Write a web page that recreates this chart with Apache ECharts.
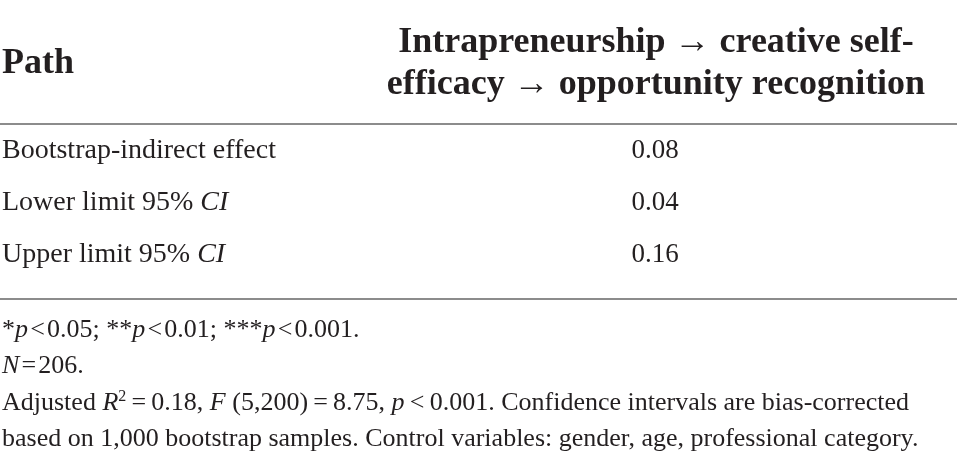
<!DOCTYPE html>
<html><head><meta charset="utf-8">
<script src="https://cdn.jsdelivr.net/npm/echarts@6/dist/echarts.min.js"></script>
<style>html,body{margin:0;padding:0;background:#fff}#c{width:957px;height:464px}</style>
</head><body><div id="c"></div>
<script>
const headerLeft = 'Path';
const headerRight = ['Intrapreneurship \u2192 creative self-', 'efficacy \u2192 opportunity recognition'];
const rowLabels = [
  [['n', 'Bootstrap-indirect effect']],
  [['n', 'Lower limit 95% '], ['i', 'CI']],
  [['n', 'Upper limit 95% '], ['i', 'CI']]
];
const indirectValues = ['0.08', '0.04', '0.16'];
const notes = [
  [['n', '*'], ['i', 'p'], ['n', '\u200a<\u200a0.05; **'], ['i', 'p'], ['n', '\u200a<\u200a0.01; ***'], ['i', 'p'], ['n', '\u200a<\u200a0.001.']],
  [['i', 'N'], ['n', '\u200a=\u200a206.']],
  [['n', 'Adjusted '], ['i', 'R'], ['s', '2'], ['n', '\u2009=\u20090.18, '], ['i', 'F'], ['n', ' (5,200)\u2009=\u20098.75, '], ['i', 'p'], ['n', '\u2009<\u20090.001. Confidence intervals are bias-corrected']],
  [['n', 'based on 1,000 bootstrap samples. Control variables: gender, age, professional category.']]
];

const FONT = '"Liberation Serif", "DejaVu Serif", serif';
const INK = '#231f20';
function rich(parts) { return parts.map(p => '{' + p[0] + '|' + p[1] + '}').join(''); }
function richStyles(size) {
  return {
    n: { fontFamily: FONT, fontSize: size, fill: INK },
    i: { fontFamily: FONT, fontSize: size, fontStyle: 'italic', fill: INK },
    s: { fontFamily: FONT, fontSize: Math.round(size * 0.6), fill: INK, verticalAlign: 'top', padding: [0, 0, size * 0.45, 0] }
  };
}
const chart = echarts.init(document.getElementById('c'));
const g = [];
g.push({ type: 'text', x: 2, y: 64, style: { text: headerLeft, fontFamily: FONT, fontSize: 36, fontWeight: 'bold', fill: INK, textVerticalAlign: 'middle' } });
headerRight.forEach((t, k) => g.push({ type: 'text', x: 656, y: 43 + k * 42, style: { text: t, fontFamily: FONT, fontSize: 36, fontWeight: 'bold', fill: INK, textAlign: 'center', textVerticalAlign: 'middle' } }));
g.push({ type: 'line', shape: { x1: 0, y1: 124, x2: 957, y2: 124 }, style: { stroke: '#8c8c8c', lineWidth: 2 } });
rowLabels.forEach((r, k) => {
  const y = 151 + k * 52;
  g.push({ type: 'text', x: 2, y: y, style: { text: rich(r), rich: richStyles(28), fontFamily: FONT, fontSize: 28, fill: INK, textVerticalAlign: 'middle' } });
  g.push({ type: 'text', x: 655, y: y, style: { text: indirectValues[k], fontFamily: FONT, fontSize: 27, fill: INK, textAlign: 'center', textVerticalAlign: 'middle' } });
});
g.push({ type: 'line', shape: { x1: 0, y1: 299, x2: 957, y2: 299 }, style: { stroke: '#8c8c8c', lineWidth: 2 } });
notes.forEach((r, k) => {
  g.push({ type: 'text', x: 2, y: 330 + k * 36.5, style: { text: rich(r), rich: richStyles(26), fontFamily: FONT, fontSize: 26, fill: INK, textVerticalAlign: 'middle' } });
});
chart.setOption({ animation: false, graphic: g });
</script></body></html>
